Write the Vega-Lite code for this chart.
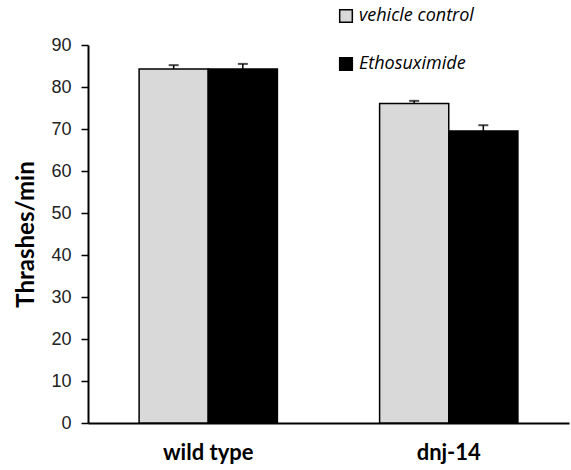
{
  "$schema": "https://vega.github.io/schema/vega-lite/v6.json",
  "width": 481,
  "height": 378,
  "autosize": "none",
  "padding": {"left": 88, "top": 45, "right": 2, "bottom": 47},
  "background": "white",
  "data": {
    "values": [
      {"group": "wild type", "treatment": "vehicle control", "value": 84.3, "upper": 85.2},
      {"group": "wild type", "treatment": "Ethosuximide", "value": 84.3, "upper": 85.5},
      {"group": "dnj-14", "treatment": "vehicle control", "value": 76.1, "upper": 76.7},
      {"group": "dnj-14", "treatment": "Ethosuximide", "value": 69.5, "upper": 70.9}
    ]
  },
  "encoding": {
    "x": {
      "field": "group",
      "type": "nominal",
      "sort": ["wild type", "dnj-14"],
      "scale": {"paddingInner": 0.425, "paddingOuter": 0.2125},
      "axis": {
        "title": null,
        "labelAngle": 0,
        "ticks": false,
        "domainColor": "black",
        "domainWidth": 2,
        "labelFont": "Lato",
        "labelFontWeight": "bold",
        "labelFontSize": 22,
        "labelColor": "black",
        "labelPadding": 19
      }
    },
    "xOffset": {
      "field": "treatment",
      "type": "nominal",
      "sort": ["vehicle control", "Ethosuximide"],
      "scale": {"paddingInner": 0, "paddingOuter": 0}
    }
  },
  "layer": [
    {
      "mark": {"type": "bar", "stroke": "black", "strokeWidth": 1.5},
      "encoding": {
        "y": {
          "field": "value",
          "type": "quantitative",
          "scale": {"domain": [0, 90], "nice": false},
          "axis": {
            "title": "Thrashes/min",
            "titleFont": "Lato",
            "titleFontSize": 24,
            "titleFontWeight": "bold",
            "titleColor": "black",
            "titleX": -50,
            "values": [0, 10, 20, 30, 40, 50, 60, 70, 80, 90],
            "grid": false,
            "domainColor": "black",
            "domainWidth": 2,
            "tickColor": "black",
            "tickWidth": 1.5,
            "tickSize": 7,
            "labelFont": "Liberation Sans",
            "labelFontSize": 18,
            "labelColor": "#222222",
            "labelPadding": 10
          }
        },
        "color": {
          "field": "treatment",
          "type": "nominal",
          "sort": ["vehicle control", "Ethosuximide"],
          "scale": {"domain": ["vehicle control", "Ethosuximide"], "range": ["#d9d9d9", "black"]},
          "legend": {
            "title": null,
            "orient": "none",
            "legendX": 249,
            "legendY": -38,
            "symbolType": "square",
            "symbolSize": 160,
            "symbolStrokeColor": "black",
            "symbolStrokeWidth": 1.5,
            "labelFont": "Open Sans",
            "labelFontStyle": "italic",
            "labelFontSize": 18,
            "labelColor": "black",
            "labelOffset": 4,
            "rowPadding": 28
          }
        }
      }
    },
    {
      "mark": {"type": "rule", "color": "black", "strokeWidth": 1.5},
      "encoding": {
        "y": {"field": "value", "type": "quantitative"},
        "y2": {"field": "upper"}
      }
    },
    {
      "mark": {"type": "tick", "color": "black", "thickness": 2, "size": 10, "orient": "horizontal"},
      "encoding": {
        "y": {"field": "upper", "type": "quantitative"}
      }
    }
  ],
  "config": {"view": {"stroke": null}}
}
